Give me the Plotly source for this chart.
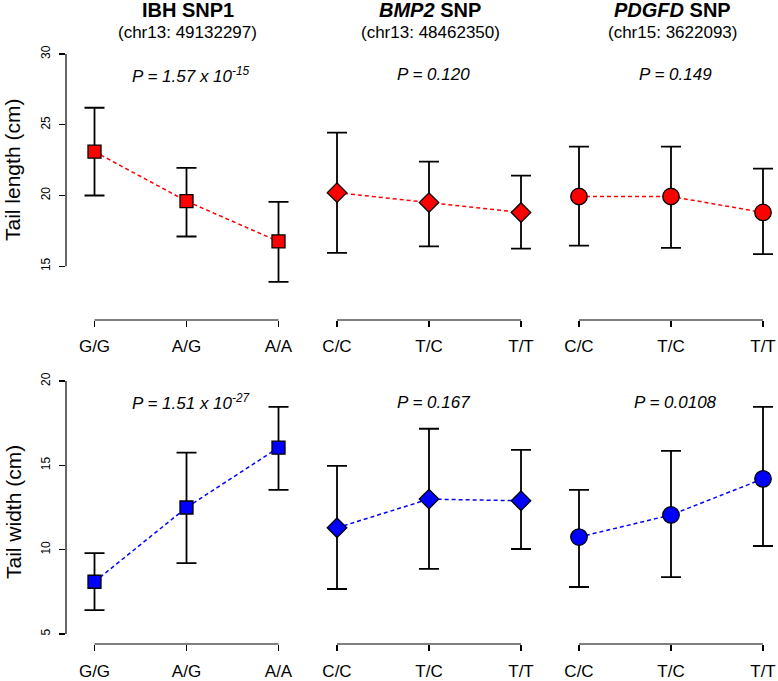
import plotly.graph_objects as go

# ---------------- data ----------------
genotypes_ibh = ["G/G", "A/G", "A/A"]
genotypes_bmp2 = ["C/C", "T/C", "T/T"]
genotypes_pdgfd = ["C/C", "T/C", "T/T"]

# Tail length (cm): mean, upper, lower
length_ibh_mean = [23.1, 19.6, 16.75]
length_ibh_upper = [26.2, 21.95, 19.55]
length_ibh_lower = [20.0, 17.1, 13.9]

length_bmp2_mean = [20.2, 19.5, 18.8]
length_bmp2_upper = [24.45, 22.4, 21.4]
length_bmp2_lower = [15.95, 16.4, 16.25]

length_pdgfd_mean = [19.93, 19.93, 18.8]
length_pdgfd_upper = [23.45, 23.45, 21.9]
length_pdgfd_lower = [16.45, 16.3, 15.85]

# Tail width (cm): mean, upper, lower
width_ibh_mean = [8.1, 12.5, 16.05]
width_ibh_upper = [9.8, 15.75, 18.47]
width_ibh_lower = [6.42, 9.2, 13.55]

width_bmp2_mean = [11.3, 13.0, 12.9]
width_bmp2_upper = [14.97, 17.17, 15.92]
width_bmp2_lower = [7.67, 8.86, 10.04]

width_pdgfd_mean = [10.75, 12.06, 14.2]
width_pdgfd_upper = [13.55, 15.86, 18.47]
width_pdgfd_lower = [7.79, 8.38, 10.22]

snp_titles = ["<b>IBH SNP1</b>", "<b><i>BMP2</i> SNP</b>", "<b><i>PDGFD</i> SNP</b>"]
snp_positions = ["(chr13: 49132297)", "(chr13: 48462350)", "(chr15: 3622093)"]
p_length = ["<i>P = 1.57 x 10<sup>-15</sup></i>", "<i>P = 0.120</i>", "<i>P = 0.149</i>"]
p_width = ["<i>P = 1.51 x 10<sup>-27</sup></i>", "<i>P = 0.167</i>", "<i>P = 0.0108</i>"]
row_titles = ["Tail length (cm)", "Tail width (cm)"]
length_ticks = [15, 20, 25, 30]
width_ticks = [5, 10, 15, 20]

# ---------------- layout geometry (window pixels) ----------------
W, H = 778, 681
FONT = "Liberation Sans, Arial, sans-serif"


def fx(p):
    return p / W


def fy(p):
    return 1 - p / H


first_tick_px = [94.5, 337, 579]
tick_step = 92.0
col_dom_px = [(66, 300), (310, 545), (553, 778)]
row_dom_px = [(54, 320), (381, 644)]
row_ranges = [(11.2, 30.0), (4.41, 20.0)]
xlabel_standoff = [5, 6]

genos = [genotypes_ibh, genotypes_bmp2, genotypes_pdgfd]
symbols = ["square", "diamond", "circle"]
sizes = [13, 15, 16.5]
colors = ["#FF0000", "#0000FF"]

data_rows = [
    [(length_ibh_mean, length_ibh_upper, length_ibh_lower),
     (length_bmp2_mean, length_bmp2_upper, length_bmp2_lower),
     (length_pdgfd_mean, length_pdgfd_upper, length_pdgfd_lower)],
    [(width_ibh_mean, width_ibh_upper, width_ibh_lower),
     (width_bmp2_mean, width_bmp2_upper, width_bmp2_lower),
     (width_pdgfd_mean, width_pdgfd_upper, width_pdgfd_lower)],
]

fig = go.Figure()
layout = dict(
    template="none",
    width=W, height=H, autosize=False,
    margin=dict(l=0, r=0, t=0, b=0, pad=0),
    paper_bgcolor="white", plot_bgcolor="white",
    showlegend=False,
    font=dict(family=FONT, color="black"),
)
shapes = []
annotations = []

for r in range(2):
    for c in range(3):
        idx = r * 3 + c + 1
        xa = "x" if idx == 1 else f"x{idx}"
        ya = "y" if idx == 1 else f"y{idx}"
        mean, upper, lower = data_rows[r][c]
        xs = list(range(len(genos[c])))
        fig.add_trace(go.Scatter(
            x=xs, y=mean, xaxis=xa, yaxis=ya,
            mode="lines+markers",
            line=dict(color=colors[r], width=1.5, dash="4px,3px"),
            marker=dict(symbol=symbols[c], size=sizes[c], color=colors[r],
                        line=dict(color="black", width=1.3)),
            error_y=dict(type="data", symmetric=False,
                         array=[u - m for u, m in zip(upper, mean)],
                         arrayminus=[m - l for m, l in zip(mean, lower)],
                         color="black", thickness=1.8, width=10),
            cliponaxis=False,
            hoverinfo="skip",
        ))
        d0, d1 = col_dom_px[c]
        t0 = first_tick_px[c]
        xr = [(d0 - t0) / tick_step, (d1 - t0) / tick_step]
        layout["xaxis" if idx == 1 else f"xaxis{idx}"] = dict(
            domain=[fx(d0), min(1.0, fx(d1))], range=xr, anchor=ya,
            tickvals=xs, ticktext=genos[c], ticks="outside", ticklen=6,
            tickwidth=1.2, tickcolor="black", showline=False,
            showgrid=False, zeroline=False, fixedrange=True, automargin=False,
            tickfont=dict(family=FONT, size=17, color="black"),
            ticklabelstandoff=xlabel_standoff[r],
        )
        top, bot = row_dom_px[r]
        yax = dict(
            domain=[fy(bot), fy(top)], range=list(row_ranges[r]), anchor=xa,
            showgrid=False, zeroline=False, showline=False, fixedrange=True,
            automargin=False,
        )
        if c == 0:
            tv = length_ticks if r == 0 else width_ticks
            yax.update(
                tickvals=tv,
                ticks="outside", ticklen=6, tickwidth=1.2, tickcolor="black",
                tickangle=-90,
                tickfont=dict(family=FONT, size=12, color="black"),
                ticklabelstandoff=4,
            )
            shapes.append(dict(type="line", xref=f"{xa} domain", yref=ya,
                               x0=0, x1=0, y0=min(tv), y1=max(tv),
                               line=dict(color="black", width=1.2)))
        else:
            yax.update(visible=False)
        layout["yaxis" if idx == 1 else f"yaxis{idx}"] = yax
        # R-style x axis line between first and last tick
        shapes.append(dict(type="line", xref=xa, yref=f"{ya} domain",
                           x0=xs[0], x1=xs[-1], y0=0, y1=0,
                           line=dict(color="black", width=1.2)))
        # P value
        ptxt = p_length[c] if r == 0 else p_width[c]
        annotations.append(dict(
            text=ptxt, xref="paper", yref="paper",
            x=fx(t0 + tick_step + 4), y=fy(75 if r == 0 else 402),
            showarrow=False, xanchor="center", yanchor="middle",
            font=dict(family=FONT, size=17, color="black"),
        ))

for c in range(3):
    cx = fx(first_tick_px[c] + tick_step + 1)
    annotations.append(dict(text=snp_titles[c], xref="paper", yref="paper",
                            x=cx, y=fy(10), showarrow=False,
                            xanchor="center", yanchor="middle",
                            font=dict(family=FONT, size=20, color="black")))
    annotations.append(dict(text=snp_positions[c], xref="paper", yref="paper",
                            x=cx, y=fy(32), showarrow=False,
                            xanchor="center", yanchor="middle",
                            font=dict(family=FONT, size=17, color="black")))

for r, ypix in enumerate([170, 512]):
    annotations.append(dict(text=row_titles[r], xref="paper", yref="paper",
                            x=fx(13), y=fy(ypix), showarrow=False,
                            textangle=-90, xanchor="center", yanchor="middle",
                            font=dict(family=FONT, size=21, color="black")))

layout["shapes"] = shapes
layout["annotations"] = annotations
fig.update_layout(**layout)
fig.write_html(
    "out.html",
    config={"displayModeBar": False, "staticPlot": True},
    post_script="document.body.style.margin='0';document.body.style.overflow='hidden';",
)
